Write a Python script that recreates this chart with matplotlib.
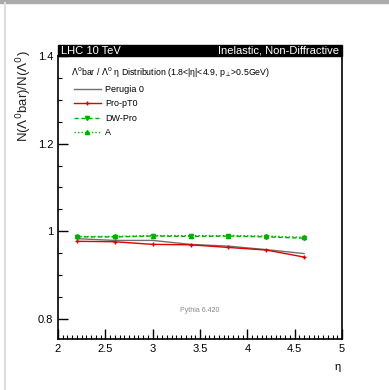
import matplotlib.pyplot as plt
from matplotlib.ticker import MultipleLocator
from matplotlib.patches import Rectangle
from matplotlib.lines import Line2D

# eta bin centres and ratio values
eta = [2.2, 2.6, 3.0, 3.4, 3.8, 4.2, 4.6]
perugia0 = [0.983, 0.979, 0.979, 0.970, 0.966, 0.958, 0.949]
pro_pt0 = [0.977, 0.976, 0.970, 0.969, 0.963, 0.957, 0.941]
dw_pro = [0.987, 0.987, 0.989, 0.988, 0.989, 0.987, 0.984]
tune_a = [0.988, 0.988, 0.990, 0.990, 0.990, 0.989, 0.986]
y_ticks = [0.8, 1.0, 1.2, 1.4]
y_ticklabels = ['0.8', '1', '1.2', '1.4']
x_ticks = [2, 2.5, 3, 3.5, 4, 4.5, 5]
x_ticklabels = ['2', '2.5', '3', '3.5', '4', '4.5', '5']

plt.rcParams['font.family'] = ['Liberation Sans', 'DejaVu Sans']

fig = plt.figure(figsize=(3.89, 3.90), dpi=100)
ax = fig.add_axes([58 / 389, 1 - 339 / 390, 284 / 389, 283 / 390])

# page decorations (grey strip on top, thin line at left)
fig.patches.append(Rectangle((0, 1 - 3 / 390), 1, 3 / 390, transform=fig.transFigure,
                             color='#aaaaaa', zorder=0))
fig.lines.append(Line2D([4.5 / 389, 4.5 / 389], [0, 1 - 3 / 390], transform=fig.transFigure,
                        color='#dddddd', lw=1.5))

green = '#00b000'
ax.plot(eta, perugia0, color='#707070', lw=1.0, label='Perugia 0')
ax.plot(eta, pro_pt0, color='#dd0000', lw=1.0, marker='+', ms=3, mew=1, label='Pro-pT0')
ax.plot(eta, dw_pro, color=green, lw=1.0, ls=(0, (3, 2)), marker='v', ms=3, label='DW-Pro')
ax.plot(eta, tune_a, color=green, lw=1.0, ls=(0, (1, 1.5)), marker='^', ms=3, label='A')

ax.set_xlim(2, 5)
ax.set_ylim(0.754, 1.4)
ax.xaxis.set_minor_locator(MultipleLocator(0.05))
ax.yaxis.set_minor_locator(MultipleLocator(0.05))
ax.set_xticks(x_ticks)
ax.set_xticklabels(x_ticklabels)
ax.set_yticks(y_ticks)
ax.set_yticklabels(y_ticklabels)
ax.tick_params(which='both', direction='in', top=False, right=False, labelsize=8)
ax.tick_params(which='major', length=7, width=1)
ax.tick_params(which='minor', length=3, width=0.8)
for s in ax.spines.values():
    s.set_linewidth(1.2)

ax.set_xlabel('η', fontsize=8)
ax.xaxis.set_label_coords(0.985, -0.08)
ax.set_ylabel(r'N($\Lambda^0$bar)/N($\Lambda^0$)', fontsize=9.5, color='#222222')
ax.yaxis.set_label_coords(-0.085, 1.02)
ax.yaxis.label.set_horizontalalignment('right')

# black header band
ax.add_patch(Rectangle((0, 1.0), 1, 11 / 283, transform=ax.transAxes, color='black',
                       clip_on=False))
ax.text(0.01, 1.0 + 5.5 / 283, 'LHC 10 TeV', transform=ax.transAxes, color='white',
        fontsize=8, va='center', ha='left')
ax.text(0.99, 1.0 + 5.5 / 283, 'Inelastic, Non-Diffractive', transform=ax.transAxes,
        color='white', fontsize=8, va='center', ha='right')

ax.text(0.045, 0.942, r'$\Lambda^0$bar / $\Lambda^0$ η Distribution (1.8<|η|<4.9, p$_\perp$>0.5GeV)',
        transform=ax.transAxes, fontsize=6.3, va='center', ha='left')

ax.legend(loc='upper left', bbox_to_anchor=(0.045, 0.91), frameon=False, fontsize=6.5,
          handlelength=2.9, handletextpad=0.5, labelspacing=0.6, borderaxespad=0)

ax.text(0.5, 0.1, 'Pythia 6.420', transform=ax.transAxes, fontsize=5, color='#888888',
        ha='center', va='center')

fig.savefig('out.png', dpi=100)
